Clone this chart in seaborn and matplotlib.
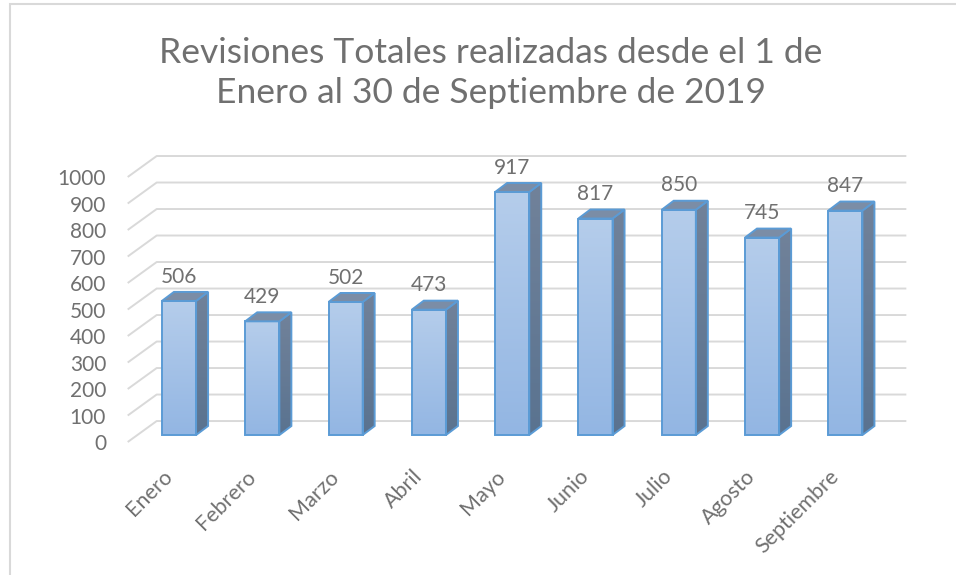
import numpy as np
import pandas as pd
import seaborn as sns
import matplotlib.pyplot as plt
from matplotlib.patches import Polygon, Rectangle
from matplotlib.colors import LinearSegmentedColormap

meses = ["Enero", "Febrero", "Marzo", "Abril", "Mayo", "Junio", "Julio", "Agosto", "Septiembre"]
revisiones = [506, 429, 502, 473, 917, 817, 850, 745, 847]
ticks_y = [0, 100, 200, 300, 400, 500, 600, 700, 800, 900, 1000]
titulo = "Revisiones Totales realizadas desde el 1 de\nEnero al 30 de Septiembre de 2019"

sns.set_style("white")
plt.rcParams['font.family'] = ['Lato', 'DejaVu Sans']
GRIS = "#707070"
GRID = "#d9d9d9"

df = pd.DataFrame({"mes": meses, "n": revisiones})

fig = plt.figure(figsize=(9.56, 5.75), dpi=100)
ax = fig.add_axes([120.7 / 956, 0.225, (912 - 120.7) / 956, 0.7412 - 0.225])

sns.barplot(data=df, x="mes", y="n", ax=ax, width=0.41, color="#a5c2e8",
            edgecolor="#5b9bd5", linewidth=1.4, zorder=3)

# offsets for the fake 3d look (bar depth, front plane, back wall), data units
bdx, bdy = 0.144, 34
fdx, fdy = -0.116, -26.4
kdx, kdy = 0.232, 52.8

# gridlines on the back wall, with the diagonal along the side wall
for v in ticks_y:
    ax.plot([-0.5 + fdx, -0.5 + kdx, 8.5 + kdx], [v + fdy, v + kdy, v + kdy],
            color=GRID, lw=1.4, zorder=1, solid_capstyle="butt")

grad = np.linspace(0, 1, 100).reshape(-1, 1)
cmap = LinearSegmentedColormap.from_list("b", ["#93b6e3", "#b5cdeb"])
cmap_side = LinearSegmentedColormap.from_list("s", ["#5a7390", "#71829a"])

for p, h in zip(ax.patches, revisiones):
    x0 = p.get_x()
    x1 = x0 + p.get_width()
    ax.imshow(grad, extent=[x0, x1, 0, h], aspect="auto", cmap=cmap,
              origin="lower", zorder=2.9, interpolation="bicubic")
    p.set_facecolor("none")
    lado = [(x1, 0), (x1 + bdx, bdy), (x1 + bdx, h + bdy), (x1, h)]
    clip = Polygon(lado, closed=True, facecolor="none", edgecolor="none", zorder=2.8)
    ax.add_patch(clip)
    im = ax.imshow(grad, extent=[x1, x1 + bdx, 0, h + bdy], aspect="auto",
                   cmap=cmap_side, origin="lower", zorder=2.8)
    im.set_clip_path(clip)
    ax.add_patch(Polygon(lado, closed=True, facecolor="none", edgecolor="#5b9bd5",
                         lw=1.4, zorder=3.1))
    ax.add_patch(Polygon([(x0, h), (x0 + bdx, h + bdy), (x1 + bdx, h + bdy), (x1, h)],
                         closed=True, facecolor="#7b8da6", edgecolor="#5b9bd5",
                         lw=1.4, zorder=3.1))
    ax.text(x0 + p.get_width() / 2, h + 92, str(h), ha="center", va="center",
            fontsize=15, color=GRIS)

ax.set_xlim(-0.7, 8.8)
ax.set_ylim(-40, 1080)

ax.set_yticks([v + fdy for v in ticks_y])
ax.set_yticklabels([str(v) for v in ticks_y], fontsize=15, color=GRIS)
ax.set_xticks([i + fdx for i in range(len(meses))])
ax.set_xticklabels(meses, fontsize=15.5, color=GRIS, rotation=45, ha="right",
                   va="center", rotation_mode="anchor")
ax.tick_params(axis="y", length=0, pad=10.5)
ax.tick_params(axis="x", length=0, pad=20)
ax.set_xlabel("")
ax.set_ylabel("")
sns.despine(ax=ax, left=True, bottom=True)

fig.text(491 / 956, 1 - 73 / 575, titulo, ha="center", va="center",
         fontsize=25.5, color=GRIS, linespacing=1.3)

# marco del grafico
fig.patches.append(Rectangle((9.5 / 956, -0.1), 1.2, 1.1 - 3.5 / 575,
                             transform=fig.transFigure, fill=False,
                             edgecolor=GRID, lw=1.5))

plt.savefig("out.png", dpi=100)
